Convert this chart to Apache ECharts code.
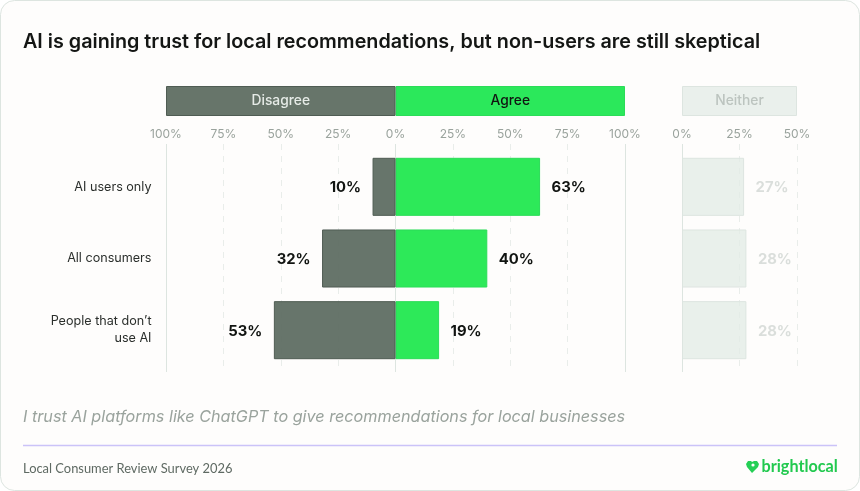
<!DOCTYPE html>
<html lang="en">
<head>
  <meta charset="utf-8"/>
  <title>AI trust survey</title>
  <script src="https://cdn.jsdelivr.net/npm/echarts@6/dist/echarts.min.js"></script>
  <style>
    html, body { margin: 0; padding: 0; background: #ffffff; }
  </style>
</head>
<body>
<div id="main" style="width: 860px;height: 491px"></div>
<script type="text/javascript">
  var categories = ['AI users only', 'All consumers', 'People that don’t\nuse AI'];
  var disagree = [10, 32, 53];
  var agree = [63, 40, 19];
  var neither = [27, 28, 28];
  var headerNames = ['Disagree', 'Agree', 'Neither'];
  var headerValues = [100, 100, 50];
  var solidLinesLeft = [-100, 0, 100];
  var solidLinesRight = [0];

  var font = 'Inter';
  var myChart = echarts.init(document.getElementById('main'));

  function pct(v) {
    return Math.abs(v) + '%';
  }

  // grids: 0/1 axis + gridlines, 2/3 data bars, 4/5 header bars
  var gridBoxes = [
    { left: 166, width: 459, top: 144, height: 228 },
    { left: 682, width: 115, top: 144, height: 228 },
    { left: 166, width: 459, top: 151, height: 215 },
    { left: 682, width: 115, top: 151, height: 215 },
    { left: 166, width: 459, top: 86, height: 30 },
    { left: 682, width: 115, top: 86, height: 30 }
  ];

  var xAxes = gridBoxes.map(function (g, i) {
    var isLeft = i % 2 === 0;
    return {
      gridIndex: i,
      type: 'value',
      position: 'top',
      min: isLeft ? -100 : 0,
      max: isLeft ? 100 : 50,
      interval: 25,
      axisLine: { show: false },
      axisTick: { show: false },
      axisLabel: {
        show: i < 2,
        margin: 4,
        formatter: pct,
        color: '#9aa39d',
        fontFamily: font,
        fontSize: 12
      },
      splitLine: {
        show: i < 2,
        lineStyle: { color: '#e9edea', type: [6, 6], width: 1 }
      }
    };
  });

  var yAxes = gridBoxes.map(function (g, i) {
    return {
      gridIndex: i,
      type: 'category',
      inverse: true,
      data: i < 4 ? categories : ['header'],
      axisLine: { show: false },
      axisTick: { show: false },
      axisLabel: {
        show: i === 2,
        margin: 14.5,
        color: '#2b2f2c',
        fontFamily: font,
        fontSize: 12.6,
        lineHeight: 17,
        padding: [4, 0, 0, 0],
        align: 'right'
      }
    };
  });

  function solidLines(axisIndex, values) {
    return {
      type: 'bar',
      xAxisIndex: axisIndex,
      yAxisIndex: axisIndex,
      data: [],
      silent: true,
      z: 1,
      markLine: {
        silent: true,
        z: 1,
        symbol: 'none',
        animation: false,
        label: { show: false },
        lineStyle: { color: '#dde5e0', type: 'solid', width: 1 },
        data: values.map(function (v) { return { xAxis: v }; })
      }
    };
  }

  function dataBars(axisIndex, values, fill, border, pos, labelColor) {
    return {
      type: 'bar',
      xAxisIndex: axisIndex,
      yAxisIndex: axisIndex,
      stack: 'row' + axisIndex,
      barCategoryGap: '19%',
      z: 3,
      data: values,
      itemStyle: { color: fill, borderColor: border, borderWidth: 1, borderRadius: 0 },
      label: {
        show: true,
        position: pos,
        distance: 11.5,
        offset: [0, 1],
        formatter: function (p) { return pct(p.value); },
        color: labelColor,
        fontFamily: font,
        fontSize: 14.8,
        fontWeight: 700
      }
    };
  }

  function headerBar(axisIndex, value, name, fill, border, textColor) {
    return {
      type: 'bar',
      xAxisIndex: axisIndex,
      yAxisIndex: axisIndex,
      stack: 'head' + axisIndex,
      barCategoryGap: 0,
      data: [value],
      itemStyle: { color: fill, borderColor: border, borderWidth: 1, borderRadius: 0 },
      label: {
        show: true,
        position: 'inside',
        formatter: name,
        color: textColor,
        fontFamily: font,
        fontSize: 13.8,
        fontWeight: 500
      }
    };
  }

  var option = {
    animation: false,
    backgroundColor: '#ffffff',
    grid: gridBoxes,
    xAxis: xAxes,
    yAxis: yAxes,
    title: [
      {
        text: 'AI is gaining trust for local recommendations, but non-users are still skeptical',
        left: 23,
        top: 32,
        padding: 0,
        textStyle: { color: '#141614', fontFamily: font, fontSize: 19.75, fontWeight: 600 }
      },
      {
        text: 'I trust AI platforms like ChatGPT to give recommendations for local businesses',
        left: 23,
        top: 409,
        padding: 0,
        textStyle: { color: '#9aa39d', fontFamily: font, fontSize: 16.2, fontWeight: 400, fontStyle: 'italic' }
      },
      {
        text: 'Local Consumer Review Survey 2026',
        left: 23,
        top: 462,
        padding: 0,
        textStyle: { color: '#5f6a63', fontFamily: 'Lato', fontSize: 12.9, fontWeight: 400 }
      }
    ],
    graphic: [
      {
        type: 'rect',
        z: -10,
        silent: true,
        shape: { x: 0.5, y: 0.5, width: 859, height: 490, r: 14 },
        style: { fill: '#fefdfc', stroke: '#dde5e0', lineWidth: 1 }
      },
      {
        type: 'line',
        silent: true,
        shape: { x1: 23, y1: 445.5, x2: 837, y2: 445.5 },
        style: { stroke: '#cbc3f8', lineWidth: 1.5 }
      },
      {
        type: 'polygon',
        silent: true,
        z: 10,
        shape: {
          points: [[752, 473], [747, 467], [746, 464], [748, 461], [751, 461], [752, 462], [754, 461], [757, 461], [759, 464], [758, 467]]
        },
        style: { fill: '#25cf55' }
      },
      {
        type: 'circle',
        silent: true,
        z: 11,
        shape: { cx: 753, cy: 465, r: 1.6 },
        style: { fill: '#fefdfc' }
      },
      {
        type: 'text',
        silent: true,
        x: 761.5,
        y: 459,
        style: { text: 'brightlocal', fill: '#22c94f', font: '700 16.2px Lato' }
      }
    ],
    series: [
      solidLines(0, solidLinesLeft),
      solidLines(1, solidLinesRight),
      dataBars(2, agree, 'rgba(38,232,84,0.97)', '#2bdc58', 'right', '#111411'),
      dataBars(2, disagree.map(function (v) { return -v; }), 'rgba(95,110,99,0.95)', '#4f5c53', 'left', '#111411'),
      dataBars(3, neither, 'rgba(226,235,230,0.75)', '#dde5e0', 'right', '#dadedb'),
      headerBar(4, headerValues[1], headerNames[1], '#2be85b', '#2bdc58', '#111411'),
      headerBar(4, -headerValues[0], headerNames[0], '#67756a', '#4f5c53', '#e6ebe7'),
      headerBar(5, headerValues[2], headerNames[2], '#eaf0ec', '#dde5e0', '#bcc4bf')
    ]
  };

  myChart.setOption(option);
</script>
</body>
</html>
